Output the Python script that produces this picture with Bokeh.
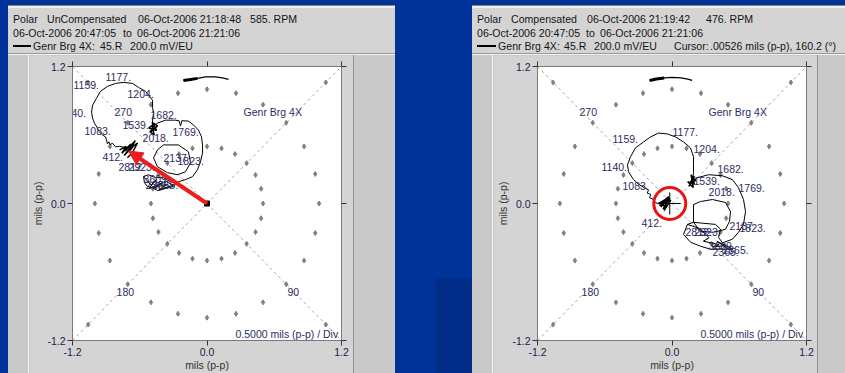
import math
from bokeh.plotting import figure
from bokeh.models import (Range1d, FixedTicker, LinearAxis, Label, Arrow, NormalHead,
                          GlobalInlineStyleSheet, PrintfTickFormatter, Div)
from bokeh.layouts import row, column
from bokeh.embed import file_html
from bokeh.resources import INLINE
from bokeh.core.properties import value

FONT = "Liberation Sans"
PANEL_GRAY = "#d4d4d4"
STRIP_GRAY = "#c9c9c9"
BLUE = "#003399"
LABEL_COLOR = "#2c2c60"

# ---------------- shared chart values ----------------
tick_values = [-1.2, 0.0, 1.2]
axis_limit = 1.2
grid_radii = [0.5, 1.0, 1.5]
grid_angles_deg = list(range(0, 360, 15))
angle_labels = ["270", "Genr Brg 4X", "180", "90"]
angle_label_x = [-0.825, 0.326, -0.807, 0.718]
angle_label_y = [0.80, 0.80, -0.774, -0.774]
scale_text = "0.5000 mils (p-p) / Div"
axis_title = "mils (p-p)"

# ---------------- UnCompensated panel ----------------
unc_header = [["Polar", "UnCompensated", "06-Oct-2006 21:18:48", "585. RPM"],
              ["06-Oct-2006 20:47:05", "to", "06-Oct-2006 21:21:06"],
              ["Genr Brg 4X:", "45.R", "200.0 mV/EU"]]
unc_loop1_x = [-0.656, -0.72, -0.78, -0.816, -0.845, -0.861, -0.875, -0.888, -0.897, -0.905,
               -0.932, -0.968, -0.977, -1.004, -1.021, -1.030, -1.021, -0.986, -0.950, -0.888,
               -0.816, -0.745, -0.664, -0.611, -0.549, -0.513, -0.486, -0.486, -0.477, -0.486, -0.486]
unc_loop1_y = [0.504, 0.49, 0.50, 0.496, 0.53, 0.513, 0.54, 0.522, 0.557, 0.583,
               0.600, 0.635, 0.661, 0.704, 0.748, 0.800, 0.861, 0.922, 0.983, 1.026,
               1.052, 1.061, 1.052, 1.017, 0.983, 0.939, 0.904, 0.843, 0.791, 0.730, 0.670]
unc_loop2_x = [-0.486, -0.442, -0.370, -0.281, -0.25, -0.236, -0.225, -0.165, -0.120, -0.076,
               -0.049, -0.040, -0.040, -0.058, -0.085, -0.129, -0.192, -0.254, -0.299]
unc_loop2_y = [0.670, 0.704, 0.730, 0.730, 0.725, 0.68, 0.725, 0.722, 0.687, 0.643,
               0.583, 0.513, 0.443, 0.365, 0.296, 0.235, 0.209, 0.191, 0.165]
unc_loop3_x = [-0.442, -0.388, -0.254, -0.165, -0.147, -0.192, -0.263, -0.352, -0.442, -0.477, -0.442]
unc_loop3_y = [0.470, 0.513, 0.513, 0.452, 0.357, 0.278, 0.252, 0.270, 0.322, 0.400, 0.470]
unc_low_x = [-0.566, -0.522, -0.459, -0.388, -0.326, -0.263, -0.299, -0.352, -0.397, -0.442,
             -0.486, -0.531, -0.558, -0.566, -0.50, -0.45, -0.52, -0.40, -0.47, -0.35, -0.43,
             -0.30, -0.38]
unc_low_y = [0.235, 0.252, 0.226, 0.226, 0.191, 0.183, 0.148, 0.139, 0.122, 0.113,
             0.139, 0.148, 0.183, 0.235, 0.16, 0.21, 0.13, 0.18, 0.14, 0.17, 0.12,
             0.16, 0.20]
unc_tip_x = [-0.78, -0.72, -0.76, -0.68, -0.73, -0.64, -0.70, -0.66, -0.74, -0.69, -0.62, -0.67, -0.71]
unc_tip_y = [0.47, 0.50, 0.44, 0.52, 0.46, 0.55, 0.45, 0.50, 0.42, 0.48, 0.53, 0.44, 0.40]
unc_knot_x = [-0.50, -0.47, -0.52, -0.45, -0.49, -0.44, -0.51, -0.47, -0.49]
unc_knot_y = [0.62, 0.70, 0.66, 0.64, 0.71, 0.68, 0.63, 0.60, 0.67]
unc_top_x = [-0.21, -0.147, -0.085, -0.013, 0.076, 0.138, 0.192]
unc_top_y = [1.078, 1.087, 1.096, 1.109, 1.109, 1.100, 1.087]
unc_labels = ["1177.", "1159.", "1204.", "1140.", "1682.", "1539.", "1083.", "1769.", "2018.",
              "412.", "2137", "1823.", "2812.", "2923.", "3609", "2365.", "2865."]
unc_label_x = [-0.905, -1.191, -0.709, -1.307, -0.504, -0.754, -1.093, -0.308, -0.575,
               -0.932, -0.388, -0.263, -0.790, -0.700, -0.566, -0.549, -0.49]
unc_label_y = [1.104, 1.035, 0.957, 0.791, 0.774, 0.687, 0.635, 0.626, 0.574,
               0.409, 0.400, 0.374, 0.322, 0.322, 0.217, 0.165, 0.165]
unc_vector_x = -0.70
unc_vector_y = 0.46

# ---------------- Compensated panel ----------------
cmp_header = [["Polar", "Compensated", "06-Oct-2006 21:19:42", "476. RPM"],
              ["06-Oct-2006 20:47:05", "to", "06-Oct-2006 21:21:06"],
              ["Genr Brg 4X:", "45.R", "200.0 mV/EU", "Cursor:", ".00526 mils (p-p), 160.2 (\u00b0)"]]
cmp_loop1_x = [-0.103, -0.15, -0.17, -0.20, -0.19, -0.22, -0.21, -0.25, -0.30, -0.343,
               -0.388, -0.397, -0.370, -0.326, -0.254, -0.192, -0.120, -0.040, 0.031, 0.103,
               0.165, 0.192, 0.192, 0.192, 0.183]
cmp_loop1_y = [-0.009, 0.01, 0.04, 0.05, 0.08, 0.09, 0.12, 0.14, 0.17, 0.209,
               0.278, 0.339, 0.409, 0.487, 0.539, 0.583, 0.617, 0.609, 0.583, 0.539,
               0.487, 0.409, 0.339, 0.270, 0.191]
cmp_loop2_x = [0.183, 0.227, 0.326, 0.450, 0.539, 0.593, 0.638, 0.656, 0.638, 0.593, 0.539, 0.450]
cmp_loop2_y = [0.191, 0.226, 0.252, 0.243, 0.209, 0.139, 0.035, -0.070, -0.183, -0.252, -0.313, -0.345]
cmp_loop3_x = [0.192, 0.254, 0.361, 0.477, 0.522, 0.513, 0.477, 0.370, 0.254, 0.192, 0.192]
cmp_loop3_y = [-0.009, 0.017, 0.035, 0.009, -0.070, -0.157, -0.226, -0.252, -0.243, -0.165, -0.009]
cmp_low_x = [0.138, 0.192, 0.388, 0.433, 0.415, 0.459, 0.539, 0.343, 0.254, 0.165, 0.103, 0.138,
             0.25, 0.33, 0.28, 0.42, 0.36, 0.48, 0.40, 0.52]
cmp_low_y = [-0.183, -0.165, -0.183, -0.226, -0.296, -0.357, -0.400, -0.400, -0.374, -0.339, -0.270,
             -0.183, -0.22, -0.30, -0.33, -0.36, -0.38, -0.37, -0.33, -0.41]
cmp_tip_x = [-0.12, -0.05, -0.10, -0.02, -0.08, -0.04, -0.11, -0.01, -0.07, -0.03, -0.09, -0.06]
cmp_tip_y = [0.0, 0.04, -0.03, 0.05, -0.05, 0.02, -0.02, 0.03, -0.06, 0.06, 0.01, -0.04]
cmp_knot_x = [0.15, 0.20, 0.16, 0.21, 0.17, 0.19, 0.14, 0.20, 0.18]
cmp_knot_y = [0.15, 0.24, 0.18, 0.20, 0.25, 0.14, 0.19, 0.17, 0.22]
cmp_top_x = [-0.20, -0.14, -0.07, 0.0, 0.08, 0.14, 0.18]
cmp_top_y = [1.078, 1.090, 1.100, 1.105, 1.100, 1.090, 1.078]
cmp_labels = ["1159.", "1140.", "1083.", "1177.", "1204.", "1682.", "1539.", "2018.", "1769.",
              "412.", "2137", "1823.", "2812.", "2923.", "3609", "2365.", "2865."]
cmp_label_x = [-0.531, -0.629, -0.442, 0.004, 0.192, 0.406, 0.192, 0.326, 0.593,
               -0.272, 0.513, 0.602, 0.120, 0.200, 0.326, 0.361, 0.450]
cmp_label_y = [0.565, 0.322, 0.157, 0.626, 0.478, 0.304, 0.200, 0.104, 0.139,
               -0.174, -0.200, -0.217, -0.252, -0.252, -0.374, -0.426, -0.409]
cmp_cursor_x = -0.02
cmp_cursor_y = 0.0

# ---------------- layout constants ----------------
HEADER_H = 50
PLOT_H = 318
PLOT_W = 324
FRAME_W = 269
FRAME_H = 276
TOP_B = 11
HEADER_TOP = [7, 21, 33.5]
UNC_HEADER_X = [[5, 39, 130, 242], [5, 115, 129], [25, 92, 122]]
CMP_HEADER_X = [[5, 39, 115, 234], [5, 114, 128], [26, 92, 122, 202, 238]]


def make_header(width, rows, rows_x, legend_w):
    spans = []
    for r, (words, xs) in enumerate(zip(rows, rows_x)):
        for w, x in zip(words, xs):
            spans.append(
                f'<span style="position:absolute;left:{x}px;top:{HEADER_TOP[r]}px;'
                f'white-space:pre;line-height:13px;">{w}</span>')
    spans.append(f'<div style="position:absolute;left:5px;top:39px;width:{legend_w}px;'
                 f'height:2px;background:#000;"></div>')
    html = (f'<div style="position:relative;width:{width}px;height:{HEADER_H}px;overflow:hidden;'
            f'background:{PANEL_GRAY};font-family:\'{FONT}\';font-size:10.6px;color:#141414;'
            f'box-sizing:border-box;border-top:1px solid #8a8a8a;'
            f'border-bottom:1px solid #f2f2f2;">'
            f'<div style="position:absolute;left:0;top:0;width:100%;height:2px;background:#efefef;"></div>'
            f'<div style="position:absolute;left:0;bottom:0;width:100%;height:1px;background:#9a9a9a;"></div>'
            + "".join(spans) + '</div>')
    return Div(text=html, width=width, height=HEADER_H, margin=0)


def bare_figure(width, height, color):
    f = figure(width=width, height=height, x_range=Range1d(0, width), y_range=Range1d(height, 0),
               output_backend="svg", toolbar_location=None, tools="", title=None,
               x_axis_location=None, y_axis_location=None,
               min_border=0, min_border_left=0, min_border_right=0,
               min_border_top=0, min_border_bottom=0)
    f.background_fill_color = color
    f.border_fill_color = color
    f.outline_line_color = None
    f.xgrid.visible = False
    f.ygrid.visible = False
    return f


def style_axis(ax, show_labels):
    ax.ticker = FixedTicker(ticks=tick_values)
    ax.formatter = PrintfTickFormatter(format="%.1f")
    ax.major_tick_in = 0
    ax.major_tick_out = 5
    ax.minor_tick_in = 0
    ax.minor_tick_out = 0
    ax.axis_line_color = "#7a7a7a"
    ax.major_tick_line_color = "#333333"
    ax.major_label_text_font = FONT
    if show_labels:
        ax.major_label_text_font_size = "10.5px"
        ax.major_label_text_color = "#1c1c50"
        ax.major_label_standoff = 2
    else:
        ax.major_label_text_font_size = "0px"
        ax.major_label_text_color = None
        ax.major_label_standoff = 0


def make_plot(left_border, margin, loops, knots, top_x, top_y, labels, lx, ly):
    p = figure(width=PLOT_W, height=PLOT_H, title=None,
               x_range=Range1d(-axis_limit, axis_limit), y_range=Range1d(-axis_limit, axis_limit),
               output_backend="svg", toolbar_location=None, tools="",
               min_border_left=left_border, min_border_right=PLOT_W - left_border - FRAME_W,
               min_border_top=TOP_B, min_border_bottom=PLOT_H - TOP_B - FRAME_H,
               margin=margin,
               styles={"box-shadow": "-1px 0 0 #f4f4f4, 1px 0 0 #8e8e8e"})
    p.background_fill_color = "white"
    p.border_fill_color = PANEL_GRAY
    p.outline_line_color = "#8a8a8a"
    p.xgrid.visible = False
    p.ygrid.visible = False

    left_ax = p.left[0]
    bottom_ax = p.below[0]
    style_axis(left_ax, True)
    style_axis(bottom_ax, True)
    for ax in (left_ax, bottom_ax):
        ax.axis_label = axis_title
        ax.axis_label_text_font = FONT
        ax.axis_label_text_font_size = "10.5px"
        ax.axis_label_text_font_style = "normal"
        ax.axis_label_text_color = "#333333"
        ax.axis_label_standoff = 0
    top_ax = LinearAxis()
    right_ax = LinearAxis()
    style_axis(top_ax, False)
    style_axis(right_ax, False)
    p.add_layout(top_ax, "above")
    p.add_layout(right_ax, "right")

    # polar dot grid and diagonals
    gx = [r * math.sin(math.radians(a)) for r in grid_radii for a in grid_angles_deg]
    gy = [r * math.cos(math.radians(a)) for r in grid_radii for a in grid_angles_deg]
    p.line([-axis_limit, axis_limit], [-axis_limit, axis_limit], line_dash="3 3",
           line_color="#a8a8a8", line_width=1)
    p.line([-axis_limit, axis_limit], [axis_limit, -axis_limit], line_dash="3 3",
           line_color="#a8a8a8", line_width=1)
    p.scatter(gx, gy, marker="diamond", size=5, color="#808080")

    # traces
    p.multi_line([l[0] for l in loops], [l[1] for l in loops], line_color="black", line_width=1)
    p.multi_line([k[0] for k in knots], [k[1] for k in knots], line_color="black", line_width=1.5)
    p.line(top_x, top_y, line_color="black", line_width=1.2)
    p.line(top_x[:3], top_y[:3], line_color="black", line_width=3)

    # texts in plot
    p.text(lx, ly, text=labels, text_font=value(FONT), text_font_size=value("10.5px"),
           text_color=LABEL_COLOR, text_baseline="middle", text_align="left")
    p.text(angle_label_x, angle_label_y, text=angle_labels, text_font=value(FONT),
           text_font_size=value("10.5px"), text_color=LABEL_COLOR,
           text_baseline="middle", text_align="left")
    p.add_layout(Label(x=1.17, y=-1.139, text=scale_text, text_font=FONT, text_font_size="10.5px",
                       text_color=LABEL_COLOR, text_baseline="middle", text_align="right"))
    return p


# ----- UnCompensated -----
unc_head = make_header(387, unc_header, UNC_HEADER_X, 18)
unc_plot = make_plot(43, (0, 42, 0, 21),
                     [(unc_loop1_x, unc_loop1_y), (unc_loop2_x, unc_loop2_y),
                      (unc_loop3_x, unc_loop3_y), (unc_low_x, unc_low_y)],
                     [(unc_tip_x, unc_tip_y), (unc_knot_x, unc_knot_y)],
                     unc_top_x, unc_top_y, unc_labels, unc_label_x, unc_label_y)
unc_plot.scatter([0], [0], marker="square", size=5, color="black")
unc_plot.add_layout(Arrow(end=NormalHead(size=14, fill_color="#ee1c1c", line_color="#ee1c1c"),
                          x_start=0, y_start=0, x_end=unc_vector_x, y_end=unc_vector_y,
                          line_color="#ee1c1c", line_width=4))

# ----- Compensated -----
cmp_head = make_header(373, cmp_header, CMP_HEADER_X, 19)
cmp_plot = make_plot(44, (0, 28, 0, 21),
                     [(cmp_loop1_x, cmp_loop1_y), (cmp_loop2_x, cmp_loop2_y),
                      (cmp_loop3_x, cmp_loop3_y), (cmp_low_x, cmp_low_y)],
                     [(cmp_tip_x, cmp_tip_y), (cmp_knot_x, cmp_knot_y)],
                     cmp_top_x, cmp_top_y, cmp_labels, cmp_label_x, cmp_label_y)
cmp_plot.scatter([cmp_cursor_x], [cmp_cursor_y], marker="cross", size=22, line_color="black", line_width=1)
cmp_plot.scatter([cmp_cursor_x], [cmp_cursor_y], marker="circle", size=32, fill_color=None,
                 line_color="#ee1111", line_width=3)

# ----- blue gap between the two windows -----
gap = bare_figure(77, 373, BLUE)
gap.quad(left=[41], right=[77], top=[278], bottom=[373], fill_color="#002b86", line_color=None)

left_col = column(unc_head, unc_plot, spacing=0, margin=(5, 0, 0, 8),
                  styles={"background-color": STRIP_GRAY})
right_col = column(cmp_head, cmp_plot, spacing=0, margin=(5, 0, 0, 0),
                   styles={"background-color": STRIP_GRAY})

layout = row(left_col, gap, right_col, spacing=0,
             stylesheets=[GlobalInlineStyleSheet(
                 css="html, body {margin:0 !important; padding:0; background:#003399; overflow:hidden;}")])

open("out.html", "w").write(file_html(layout, INLINE))
